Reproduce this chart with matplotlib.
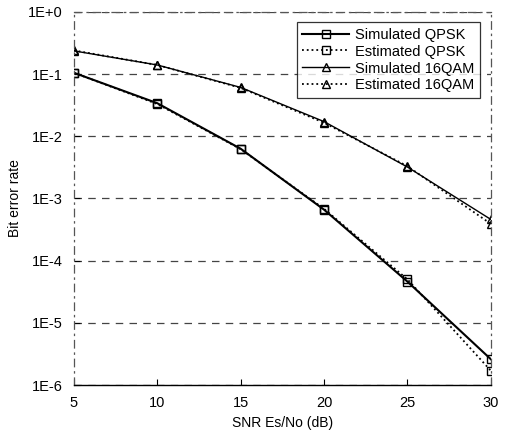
import math
import matplotlib
matplotlib.use('Agg')
import matplotlib.pyplot as plt
from matplotlib.ticker import FixedLocator, FuncFormatter

plt.rcParams['font.family'] = ['Liberation Sans', 'DejaVu Sans']

snr = [5, 10, 15, 20, 25, 30]
sim_qpsk = [0.105, 0.034, 0.0063, 0.00066, 4.6e-5, 2.6e-6]
est_qpsk = [0.105, 0.033, 0.0062, 0.00068, 5.0e-5, 1.7e-6]
sim_16qam = [0.236, 0.14, 0.061, 0.0172, 0.0032, 4.6e-4]
est_16qam = [0.24, 0.14, 0.060, 0.0165, 0.0033, 3.9e-4]
labels = ['Simulated QPSK', 'Estimated QPSK', 'Simulated 16QAM', 'Estimated 16QAM']

fig = plt.figure(figsize=(5.06, 4.40), dpi=100)
ax = fig.add_axes([0.146, 0.125, 0.824, 0.848])

ax.plot(snr, sim_qpsk, '-', color='black', lw=1.5, marker='s', ms=6, mfc='none', mec='black', mew=1.0, label=labels[0])
ax.plot(snr, est_qpsk, ':', color='black', lw=1.3, marker='s', ms=6, mfc='none', mec='black', mew=1.0, label=labels[1])
ax.plot(snr, sim_16qam, '-', color='black', lw=1.0, marker='^', ms=6, mfc='none', mec='black', mew=1.0, label=labels[2])
ax.plot(snr, est_16qam, ':', color='black', lw=1.3, marker='^', ms=6, mfc='none', mec='black', mew=1.0, label=labels[3])

ax.set_yscale('log')
ax.set_xlim(5, 30)
ax.set_ylim(1e-6, 1)
ax.xaxis.set_major_locator(FixedLocator(snr))
ax.yaxis.set_major_locator(FixedLocator([10.0 ** k for k in range(-6, 1)]))
ax.yaxis.set_minor_locator(FixedLocator([]))
ax.yaxis.set_major_formatter(FuncFormatter(lambda v, p: '1E+0' if v >= 1 else '1E-%d' % round(-math.log10(v))))

ax.grid(axis='y', linestyle=(0, (6, 5)), color='#444444', lw=0.9)
ax.tick_params(axis='both', direction='in', length=4, labelsize=10.5, colors='black')
ax.tick_params(axis='y', pad=8)
ax.tick_params(axis='x', pad=8)

ax.spines['bottom'].set_linewidth(1.0)
for s in ['top', 'left', 'right']:
    ax.spines[s].set_linestyle((0, (6, 4, 1, 4)))
    ax.spines[s].set_color('#555555')
    ax.spines[s].set_linewidth(0.9)

ax.set_xlabel('SNR Es/No (dB)', fontsize=10, labelpad=4)
ax.set_ylabel('Bit error rate', fontsize=10, labelpad=4)

leg = ax.legend(loc='upper right', bbox_to_anchor=(0.985, 0.985), fontsize=10.5, frameon=True,
                fancybox=False, edgecolor='black', handlelength=3.2, borderpad=0.4,
                labelspacing=0.2, handletextpad=0.4, borderaxespad=0.3, markerscale=0.9)
leg.get_frame().set_linewidth(0.9)

fig.savefig('out.png', dpi=100)
